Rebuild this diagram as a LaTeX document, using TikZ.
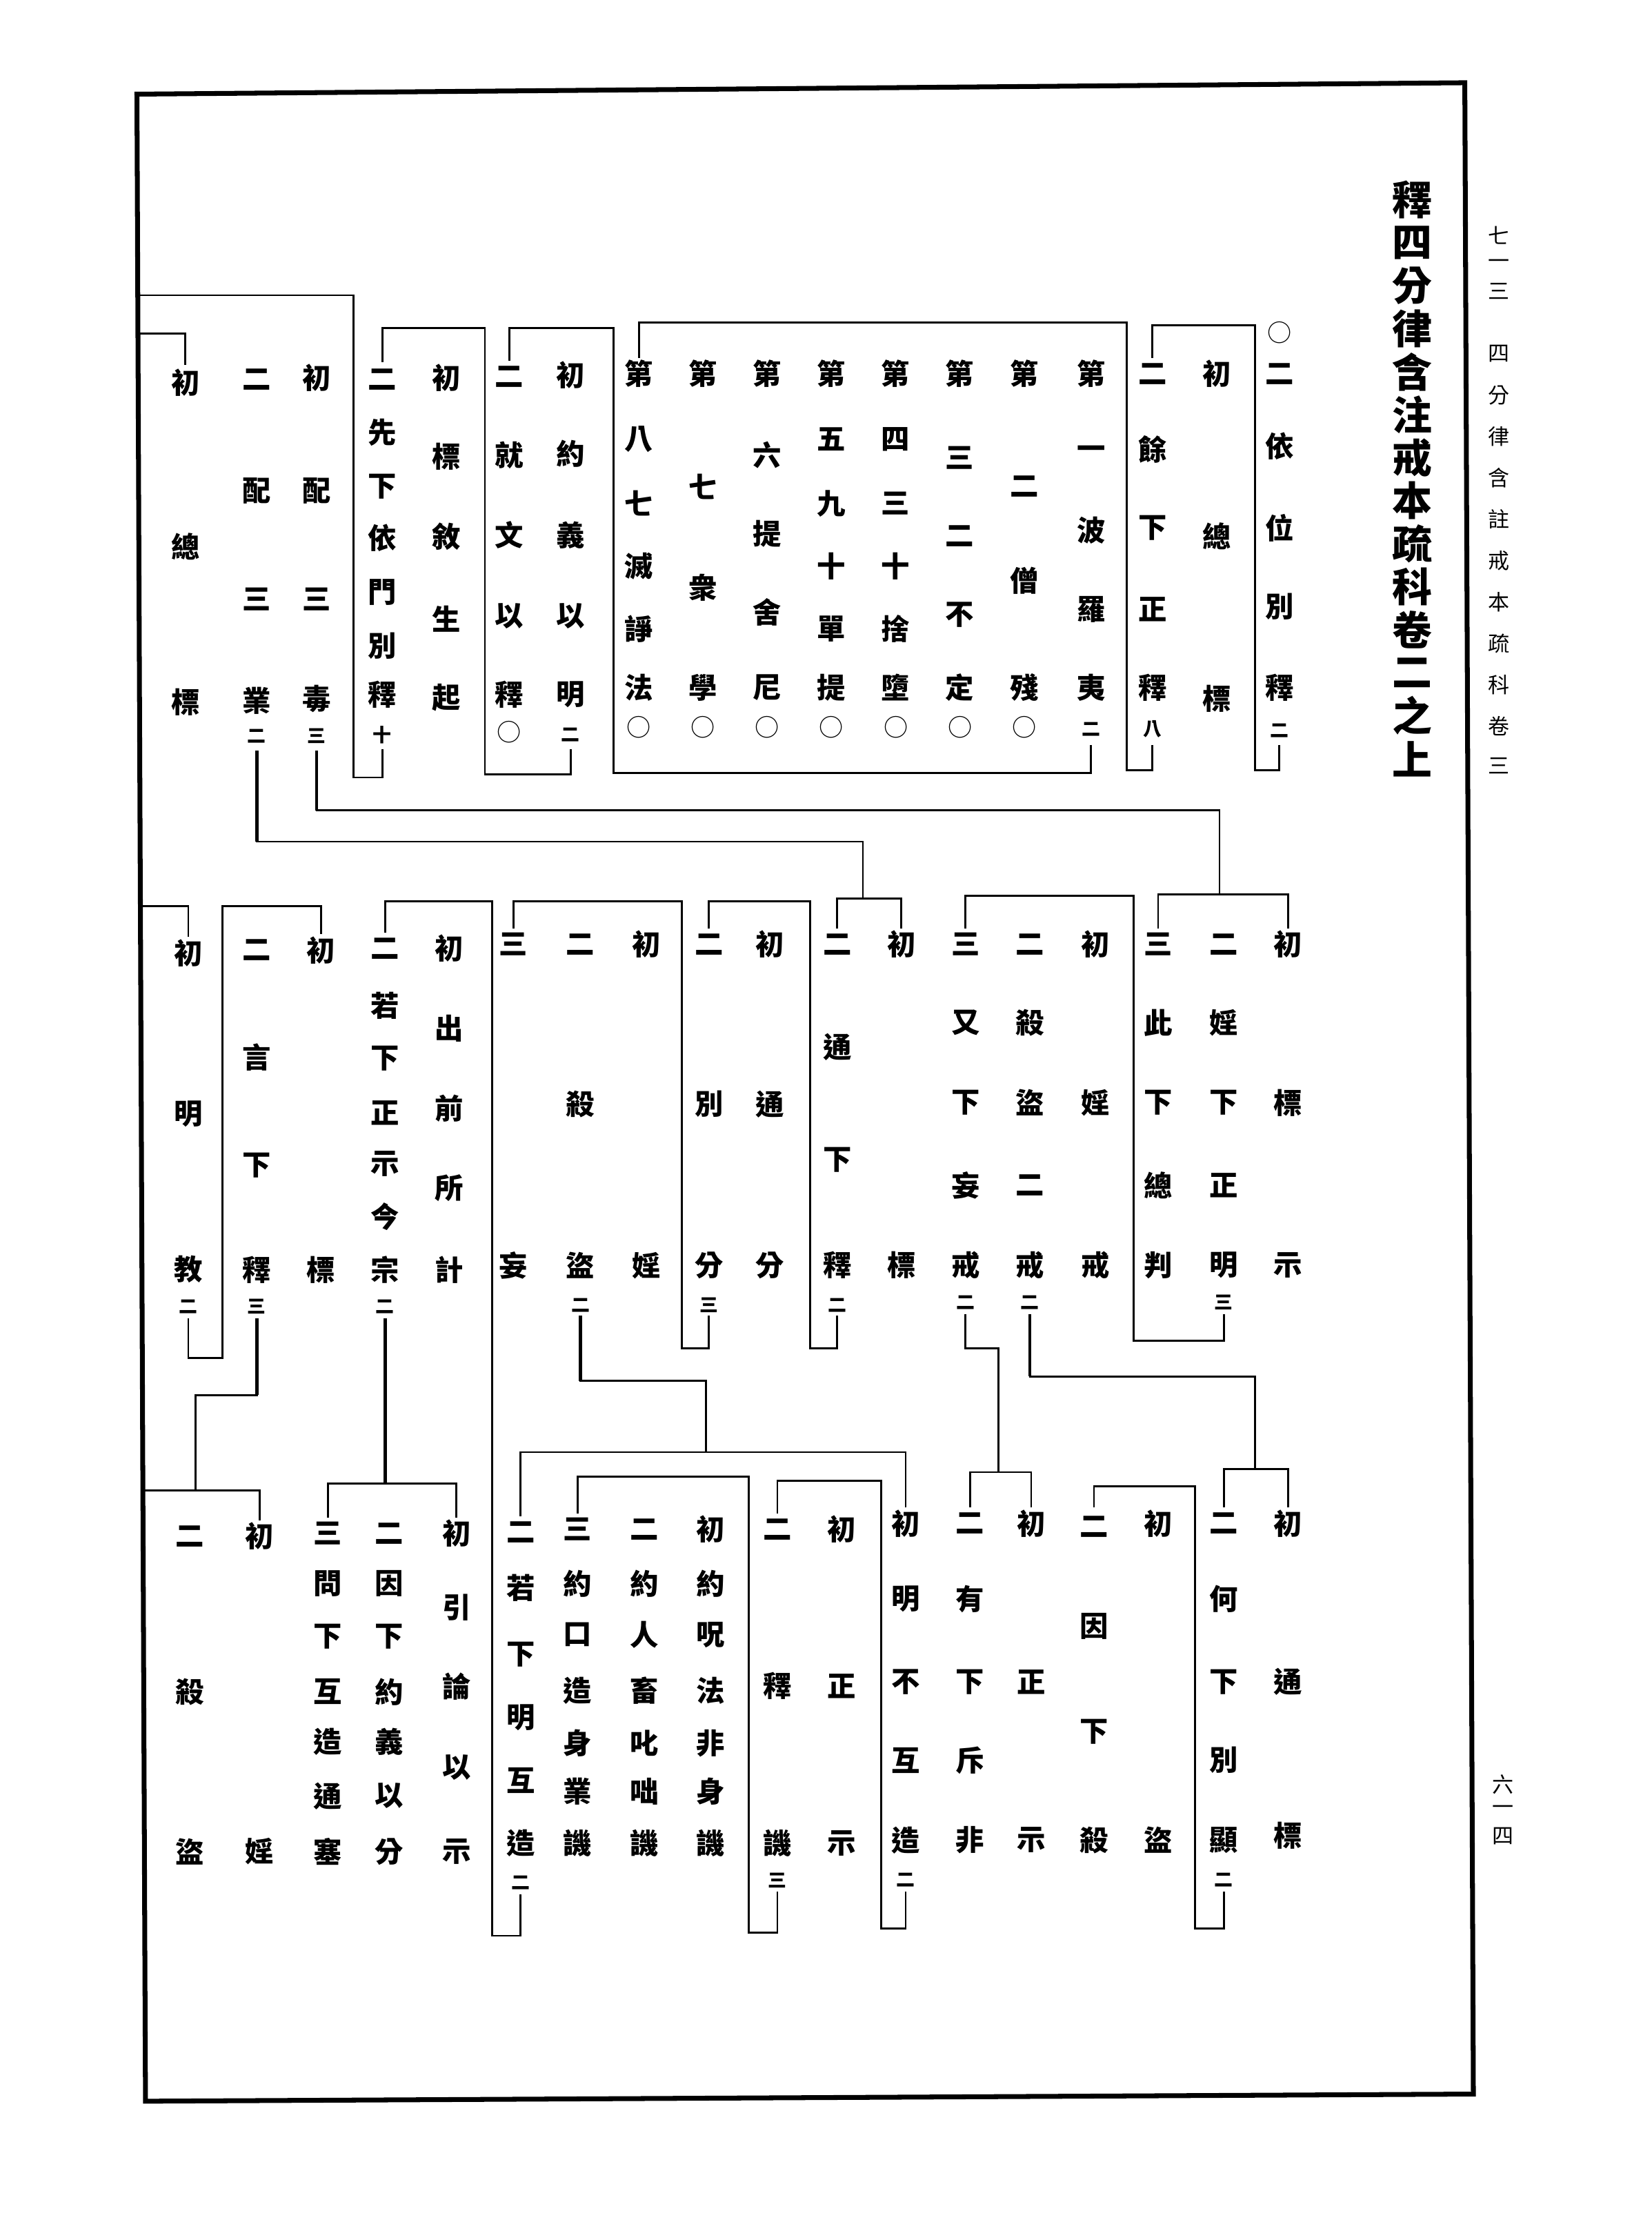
\documentclass[tikz,border=0pt]{standalone}
\usepackage{fontspec}
\newfontfamily\cjk{Noto Sans CJK TC}
\newcommand\kol[5]{%
  \node[cb, minimum height={(#4)-(#3)}] (#1) at (#2,{((#3)+(#4))/2}) {};
  \foreach \cc/\yy/\kst [count=\ii] in {#5} {\node[\kst] (#1c\ii) at (#2,\yy) {\cc};}%
}
\begin{document}
\begin{tikzpicture}[x=1pt,y=-1pt,
  kb/.style={font=\cjk\bfseries\fontsize{20}{20}\selectfont, inner sep=0pt},
  ks/.style={font=\cjk\bfseries\fontsize{13}{13}\selectfont, inner sep=0pt},
  ko/.style={font=\cjk\fontsize{17}{17}\selectfont, inner sep=0pt},
  tt/.style={font=\cjk\bfseries\fontsize{28}{28}\selectfont, inner sep=0pt},
  hd/.style={font=\cjk\fontsize{15}{15}\selectfont, inner sep=0pt},
  cb/.style={draw=none, minimum width=20pt, inner sep=0pt},
  ln/.style={line width=1.4pt},
  tk/.style={line width=2.3pt},
  frm/.style={line width=3.4pt, line join=miter}]
\useasboundingbox (0,0) rectangle (1158,1564);
\fill[white] (0,0) rectangle (1158,1564);
% frame
\draw[frm] (96,66) -- (1027,58) -- (1033,1468) -- (102,1473) -- cycle;
\coordinate (e1) at (97,207);
\coordinate (e2) at (97,234);
\coordinate (e3) at (99,635);
\coordinate (e4) at (101,1045);
% title and margin
\foreach \cc [count=\i] in {釋,四,分,律,含,注,戒,本,疏,科,卷,二,之,上}
  \node[tt] (ti\i) at (990,{140+(\i-1)*30.15}) {\cc};
\foreach \cc/\yy [count=\i] in {七/165,一/185,三/204,四/248,分/277,律/306,含/335,註/364,戒/393,本/422,疏/451,科/480,卷/509,三/537}
  \node[hd] (hd\i) at (1051,\yy) {\cc};
\foreach \cc/\yy [count=\i] in {六/1251,一/1269,四/1287}
  \node[hd] (pg\i) at (1054,\yy) {\cc};
% ---------------- top row
\kol{T1}{897}{222}{522}{○/233/ko, 二/262/kb, 依/313/kb, 位/370/kb, 別/425/kb, 釋/482/kb, 二/512/ks}
\kol{T2}{853}{251}{501}{初/262/kb, 總/376/kb, 標/490/kb}
\kol{T3}{808}{251}{522}{二/262/kb, 餘/315/kb, 下/370/kb, 正/427/kb, 釋/482/kb, 八/511/ks}
\kol{T4}{765}{251}{522}{第/262/kb, 一/317/kb, 波/372/kb, 羅/427/kb, 夷/482/kb, 二/511/ks}
\kol{T5}{718}{251}{522}{第/262/kb, 二/341/kb, 僧/407/kb, 殘/482/kb, ○/510/ko}
\kol{T6}{673}{251}{522}{第/262/kb, 三/321/kb, 二/376/kb, 不/431/kb, 定/482/kb, ○/510/ko}
\kol{T7}{628}{251}{522}{第/262/kb, 四/308/kb, 三/353/kb, 十/397/kb, 捨/441/kb, 墮/482/kb, ○/510/ko}
\kol{T8}{583}{251}{522}{第/262/kb, 五/308/kb, 九/353/kb, 十/397/kb, 單/441/kb, 提/482/kb, ○/510/ko}
\kol{T9}{538}{251}{522}{第/262/kb, 六/319/kb, 提/374/kb, 舍/429/kb, 尼/482/kb, ○/510/ko}
\kol{T10}{493}{251}{522}{第/262/kb, 七/341/kb, 衆/412/kb, 學/482/kb, ○/510/ko}
\kol{T11}{448}{251}{522}{第/262/kb, 八/308/kb, 七/353/kb, 滅/397/kb, 諍/441/kb, 法/482/kb, ○/510/ko}
\kol{T12}{400}{252}{525}{初/263/kb, 約/318/kb, 義/375/kb, 以/432/kb, 明/487/kb, 二/515/ks}
\kol{T13}{357}{253}{525}{二/264/kb, 就/319/kb, 文/375/kb, 以/432/kb, 釋/487/kb, ○/513/ko}
\kol{T14}{313}{254}{500}{初/265/kb, 標/320/kb, 敘/376/kb, 生/434/kb, 起/489/kb}
\kol{T15}{268}{254}{525}{二/266/kb, 先/303/kb, 下/341/kb, 依/377/kb, 門/415/kb, 別/453/kb, 釋/487/kb, 十/515/ks}
\kol{T16}{222}{254}{526}{初/265/kb, 配/344/kb, 三/420/kb, 毒/490/kb, 三/516/ks}
\kol{T17}{180}{254}{526}{二/266/kb, 配/344/kb, 三/420/kb, 業/491/kb, 二/516/ks}
\kol{T18}{130}{256}{503}{初/268/kb, 總/383/kb, 標/492/kb}
% ---------------- middle row
\kol{M1}{903}{651}{898}{初/662/kb, 標/773/kb, 示/887/kb}
\kol{M2}{858}{651}{921}{二/662/kb, 婬/717/kb, 下/773/kb, 正/831/kb, 明/887/kb, 三/913/ks}
\kol{M3}{812}{651}{898}{三/662/kb, 此/717/kb, 下/773/kb, 總/831/kb, 判/887/kb}
\kol{M4}{768}{651}{898}{初/662/kb, 婬/773/kb, 戒/887/kb}
\kol{M5}{722}{651}{921}{二/662/kb, 殺/717/kb, 盜/773/kb, 二/831/kb, 戒/887/kb, 二/913/ks}
\kol{M6}{677}{651}{921}{三/662/kb, 又/717/kb, 下/773/kb, 妄/831/kb, 戒/887/kb, 二/913/ks}
\kol{M7}{632}{651}{898}{初/662/kb, 標/887/kb}
\kol{M8}{587}{651}{922}{二/662/kb, 通/734/kb, 下/813/kb, 釋/887/kb, 二/915/ks}
\kol{M9}{540}{651}{898}{初/662/kb, 通/774/kb, 分/887/kb}
\kol{M10}{497}{651}{922}{二/662/kb, 別/774/kb, 分/887/kb, 三/915/ks}
\kol{M11}{453}{651}{898}{初/662/kb, 婬/887/kb}
\kol{M12}{407}{651}{922}{二/662/kb, 殺/774/kb, 盜/887/kb, 二/915/ks}
\kol{M13}{360}{651}{898}{三/662/kb, 妄/887/kb}
\kol{M14}{315}{654}{901}{初/665/kb, 出/721/kb, 前/777/kb, 所/833/kb, 計/890/kb}
\kol{M15}{270}{654}{924}{二/665/kb, 若/705/kb, 下/742/kb, 正/780/kb, 示/816/kb, 今/853/kb, 宗/890/kb, 二/916/ks}
\kol{M16}{225}{655}{901}{初/666/kb, 標/890/kb}
\kol{M17}{180}{655}{924}{二/666/kb, 言/741/kb, 下/817/kb, 釋/890/kb, 三/916/ks}
\kol{M18}{132}{657}{924}{初/668/kb, 明/781/kb, 教/890/kb, 二/916/ks}
% ---------------- bottom row
\kol{B1}{903}{1057}{1298}{初/1068/kb, 通/1179/kb, 標/1287/kb}
\kol{B2}{858}{1057}{1326}{二/1068/kb, 何/1121/kb, 下/1179/kb, 別/1234/kb, 顯/1290/kb, 二/1318/ks}
\kol{B3}{812}{1057}{1301}{初/1068/kb, 盜/1290/kb}
\kol{B4}{767}{1057}{1301}{二/1070/kb, 因/1140/kb, 下/1214/kb, 殺/1290/kb}
\kol{B5}{723}{1057}{1301}{初/1068/kb, 正/1179/kb, 示/1290/kb}
\kol{B6}{680}{1057}{1301}{二/1068/kb, 有/1121/kb, 下/1179/kb, 斥/1234/kb, 非/1290/kb}
\kol{B7}{635}{1057}{1326}{初/1068/kb, 明/1121/kb, 不/1179/kb, 互/1234/kb, 造/1290/kb, 二/1318/ks}
\kol{B8}{590}{1061}{1303}{初/1072/kb, 正/1182/kb, 示/1292/kb}
\kol{B9}{545}{1061}{1326}{二/1072/kb, 釋/1182/kb, 譏/1292/kb, 三/1318/ks}
\kol{B10}{498}{1061}{1303}{初/1072/kb, 約/1110/kb, 呪/1146/kb, 法/1185/kb, 非/1222/kb, 身/1256/kb, 譏/1292/kb}
\kol{B11}{452}{1061}{1303}{二/1072/kb, 約/1110/kb, 人/1146/kb, 畜/1185/kb, 叱/1222/kb, 咄/1256/kb, 譏/1292/kb}
\kol{B12}{405}{1061}{1303}{三/1072/kb, 約/1110/kb, 口/1146/kb, 造/1185/kb, 身/1222/kb, 業/1256/kb, 譏/1292/kb}
\kol{B13}{365}{1063}{1328}{二/1074/kb, 若/1113/kb, 下/1160/kb, 明/1204/kb, 互/1248/kb, 造/1292/kb, 二/1320/ks}
\kol{B14}{320}{1064}{1309}{初/1075/kb, 引/1127/kb, 論/1182/kb, 以/1239/kb, 示/1298/kb}
\kol{B15}{273}{1064}{1309}{二/1075/kb, 因/1110/kb, 下/1147/kb, 約/1186/kb, 義/1221/kb, 以/1259/kb, 分/1298/kb}
\kol{B16}{230}{1064}{1309}{三/1075/kb, 問/1110/kb, 下/1147/kb, 互/1186/kb, 造/1221/kb, 通/1259/kb, 塞/1298/kb}
\kol{B17}{182}{1066}{1309}{初/1077/kb, 婬/1298/kb}
\kol{B18}{133}{1066}{1309}{二/1077/kb, 殺/1186/kb, 盜/1298/kb}
% ---------------- connectors, top
\draw[ln] (T1.south) |- (880,540) |- (808,228) -- (T3.north);
\draw[ln] (T3.south) |- (790,540) |- (448,226) -- (T11.north);
\draw[ln] (T4.south) |- (430,542) |- (357,230) -- (T13.north);
\draw[ln] (T12.south) |- (340,543) |- (268,230) -- (T15.north);
\draw[ln] (T15.south) |- (248,545) |- (e1);
\draw[ln] (e2) -| (T18.north);
% top to middle
\draw[tk] (T16.south) -- (222,568);
\draw[ln] (T16.south) |- (855,568) -- (855,627);
\draw[ln] (M1.north) -- (903,627) -| (M3.north);
\draw[tk] (T17.south) -- (180,590);
\draw[ln] (T17.south) |- (605,590) -- (605,630);
\draw[ln] (M7.north) -- (632,630) -| (M8.north);
% middle
\draw[ln] (M2.south) |- (795,940) |- (677,628) -- (M6.north);
\draw[tk] (M5.south) -- (722,965);
\draw[ln] (M5.south) |- (880,965) -- (880,1030);
\draw[ln] (B1.north) -- (903,1030) -| (B2.north);
\draw[ln] (M6.south) |- (700,945) -- (700,1032);
\draw[ln] (B5.north) -- (723,1032) -| (B6.north);
\draw[ln] (M8.south) |- (568,945) |- (497,632) -- (M10.north);
\draw[ln] (M10.south) |- (478,945) |- (360,632) -- (M13.north);
\draw[tk] (M12.south) -- (407,968);
\draw[ln] (M12.south) |- (495,968) -- (495,1018);
\draw[ln] (B7.north) -- (635,1018) -| (B13.north);
\draw[ln] (B13.south) |- (345,1357) |- (270,632) -- (M15.north);
\draw[tk] (M15.south) -- (270,1040);
\draw[ln] (B14.north) -- (320,1040) -| (B16.north);
\draw[ln] (e3) -| (M18.north);
\draw[ln] (M18.south) |- (156,952) |- (225,635) -- (M16.north);
\draw[tk] (M17.south) -- (180,978);
\draw[ln] (M17.south) |- (137,978) -- (137,1045);
\draw[ln] (e4) -| (B17.north);
% bottom
\draw[ln] (B2.south) |- (838,1352) |- (767,1042) -- (B4.north);
\draw[ln] (B7.south) |- (618,1352) |- (545,1038) -- (B9.north);
\draw[ln] (B9.south) |- (525,1355) |- (405,1035) -- (B12.north);
\end{tikzpicture}
\end{document}
